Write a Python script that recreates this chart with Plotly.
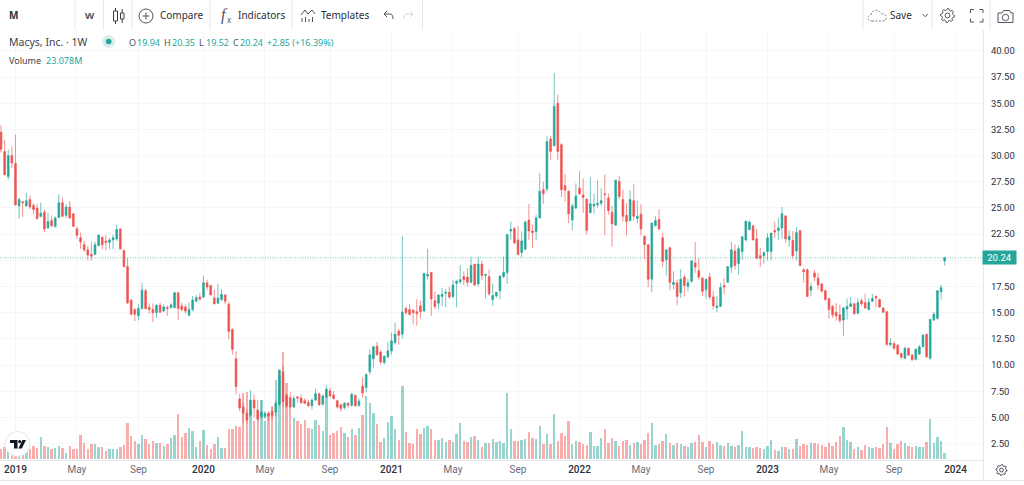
import math
import re
import pandas as pd
import plotly.graph_objects as go

TICK_DATES = ["2018-12-31", "2019-04-29", "2019-08-26", "2019-12-30", "2020-04-27", "2020-08-31",
              "2020-12-28", "2021-04-26", "2021-08-30", "2021-12-27", "2022-04-25", "2022-08-29",
              "2022-12-26", "2023-04-24", "2023-08-28", "2023-12-25"]
TICK_LABELS = ["2019", "May", "Sep", "2020", "May", "Sep", "2021", "May", "Sep", "2022", "May", "Sep",
               "2023", "May", "Sep", "2024"]
PRICE_TICKS = [2.5, 5, 7.5, 10, 12.5, 15, 17.5, 20, 22.5, 25, 27.5, 30, 32.5, 35, 37.5, 40]

OPEN = [32.25,30.4,28.0,30.0,29.25,25.2,25.6,25.2,25.8,25.25,
        25.0,24.2,24.6,23.1,23.8,23.2,24.1,25.5,24.3,25.1,
        24.45,23.0,22.15,21.5,21.0,20.55,20.55,21.4,22.2,21.85,
        21.7,21.95,22.05,23.0,20.95,19.4,16.2,15.3,14.7,15.4,
        17.1,15.5,15.3,15.0,15.7,15.15,15.5,15.5,15.5,16.9,
        15.65,15.55,14.75,15.3,16.1,16.5,16.5,17.85,17.6,16.4,
        15.9,16.25,16.7,15.8,13.4,10.6,6.75,6.0,5.4,5.2,
        6.65,5.7,5.05,5.05,5.4,5.6,5.5,6.25,9.36,7.1,
        6.9,6.0,6.95,6.85,6.6,6.45,6.1,6.65,7.25,6.25,
        6.9,7.55,7.15,6.6,6.2,5.95,6.35,6.15,7.1,6.15,
        8.0,7.85,9.35,10.6,11.8,11.25,10.25,10.8,11.35,12.15,
        13.25,12.95,15.4,15.3,15.25,15.1,15.65,15.15,18.5,18.85,
        16.15,15.9,16.55,16.85,16.95,16.55,17.8,17.95,18.45,18.4,
        17.9,19.65,17.75,19.65,18.55,18.45,16.25,16.6,17.1,18.45,
        18.85,22.8,23.05,21.95,20.75,21.05,23.85,22.8,22.75,24.05,
        26.75,26.8,31.6,30.95,35.0,31.05,27.15,26.6,23.85,25.0,
        26.9,26.25,25.85,24.55,25.2,25.3,25.45,26.35,25.95,24.6,
        23.35,27.55,25.8,24.3,23.8,25.7,24.0,24.4,22.3,21.5,
        18.2,23.3,23.9,22.15,20.05,21.2,17.7,17.85,16.9,18.4,
        17.5,18.0,19.75,19.0,18.3,17.2,18.4,16.5,15.5,15.6,
        17.6,17.9,19.35,20.9,19.7,20.85,21.95,22.95,23.3,22.05,
        20.45,20.45,20.85,20.85,22.85,22.85,23.1,24.25,21.95,21.9,
        20.9,22.85,19.1,19.1,17.15,18.8,18.3,17.75,17.1,16.35,
        15.6,15.05,14.8,14.3,15.35,15.6,15.85,14.95,16.15,15.95,
        15.3,16.1,16.55,16.25,15.45,15.1,11.95,12.05,11.9,11.1,
        10.65,11.6,10.95,10.55,11.05,11.75,12.95,10.65,14.3,14.45,17.0,19.94]
HIGH = [32.9,31.5,30.6,30.9,32.0,26.0,25.65,26.45,26.2,25.45,
        25.4,25.5,24.85,24.5,24.3,24.2,26.3,26.0,25.35,25.65,
        24.5,23.25,22.65,21.85,21.35,21.75,21.8,22.5,22.3,22.4,
        22.15,22.45,23.4,23.05,21.0,20.25,16.3,15.4,15.8,17.85,
        17.3,15.9,15.9,15.8,15.95,15.8,15.7,15.9,17.0,17.0,
        15.95,15.8,16.0,16.6,16.7,16.9,18.55,18.15,17.6,17.2,
        17.75,17.25,16.75,16.05,13.5,11.3,7.25,6.4,5.75,7.6,
        7.2,6.7,6.6,5.6,5.6,6.1,6.6,9.6,9.9,7.3,
        7.4,7.1,7.05,7.2,6.85,6.7,6.8,7.75,7.35,7.2,
        8.05,7.85,7.5,6.7,6.3,6.45,6.45,7.35,7.2,6.8,
        8.8,9.2,11.5,11.8,12.2,11.4,10.9,12.2,13.1,14.05,
        13.45,22.3,15.6,15.8,15.3,16.3,16.15,18.8,21.1,18.9,
        17.0,16.7,17.35,17.25,17.5,18.15,18.15,19.55,18.95,19.25,
        20.35,19.65,20.35,19.95,18.7,19.15,17.8,16.95,18.6,20.35,
        22.55,23.7,23.15,23.25,22.75,23.8,25.4,23.4,24.35,28.35,
        27.5,31.85,31.9,37.9,35.8,31.2,28.25,26.7,25.4,27.35,
        28.5,27.8,25.85,27.95,26.4,27.65,26.9,28.2,26.4,25.2,
        27.7,28.05,26.75,25.45,26.7,27.3,25.7,25.35,22.35,21.5,
        23.6,24.2,24.9,22.6,21.0,21.3,18.95,18.15,19.15,18.65,
        18.2,19.95,21.75,20.2,18.4,18.2,18.8,17.05,16.6,17.85,
        18.3,19.4,21.75,21.5,21.4,22.3,23.75,23.8,23.4,23.0,
        21.2,20.85,22.6,22.6,23.7,24.05,25.1,24.25,22.85,22.8,
        23.2,22.9,19.25,19.25,17.85,19.1,18.8,17.85,17.2,16.4,
        15.75,15.9,15.75,15.55,16.35,16.5,15.95,16.4,16.4,16.8,
        16.4,16.8,16.65,16.35,15.55,15.15,12.55,12.25,12.0,11.2,
        11.75,11.65,11.05,11.6,11.9,12.95,12.95,14.45,15.1,17.15,17.65,20.35]
LOW = [30.3,28.1,27.7,28.8,25.2,24.0,24.15,25.1,24.9,24.4,
       23.9,24.1,22.7,23.05,23.2,23.2,24.05,24.2,24.05,24.0,
       23.2,22.05,21.1,20.8,20.0,20.0,20.55,21.4,21.05,20.95,
       21.05,21.05,21.85,21.0,19.3,15.8,14.75,14.2,14.25,15.3,
       15.3,14.9,14.1,14.5,15.0,15.1,14.7,15.4,15.4,14.3,
       15.15,14.9,14.7,15.1,16.0,16.1,16.4,17.15,16.65,15.8,
       15.85,16.1,15.8,12.45,11.0,7.2,5.6,4.5,4.4,5.05,
       5.0,4.65,4.9,4.85,4.65,4.8,5.1,6.05,6.05,5.9,
       5.9,5.9,6.4,6.25,6.25,6.0,5.75,6.55,6.1,6.15,
       6.8,6.9,6.7,5.85,5.55,5.75,5.9,6.0,6.0,6.0,
       6.9,7.4,9.1,9.75,10.85,10.05,10.05,10.6,11.0,11.95,
       11.95,12.5,14.8,14.7,13.9,13.75,14.4,15.1,18.15,14.7,
       15.35,15.35,15.6,15.5,16.3,16.4,15.5,17.75,17.65,17.5,
       17.8,17.55,17.5,18.1,16.4,16.6,15.65,16.4,16.3,18.3,
       17.75,21.95,21.6,20.55,20.3,21.0,21.95,21.15,21.95,24.0,
       25.4,26.55,29.6,30.9,29.55,26.05,25.6,23.55,22.9,24.9,
       26.25,24.55,22.45,24.5,24.45,25.05,25.2,22.4,24.35,21.3,
       23.3,25.85,23.7,22.35,23.7,23.8,23.55,22.35,20.1,17.45,
       16.95,23.25,22.9,19.4,18.55,17.15,17.2,15.75,16.4,16.55,
       17.05,17.85,18.8,18.15,16.6,16.3,16.25,15.3,15.05,15.55,
       16.8,17.85,18.8,19.1,18.65,20.05,21.8,22.85,21.9,20.1,
       19.35,19.7,20.0,20.0,22.15,21.95,22.05,21.7,21.3,20.15,
       20.0,19.45,17.9,16.5,16.6,18.0,17.2,16.95,16.15,14.45,
       14.5,14.25,14.0,12.75,14.35,15.55,14.85,14.85,15.65,15.35,
       15.2,16.0,15.55,15.45,14.95,11.85,11.8,11.45,10.95,10.55,
       10.55,10.85,10.4,10.45,10.95,11.7,10.65,10.5,14.2,14.35,16.25,19.52]
CLOSE = [30.6,28.2,30.0,29.3,25.3,25.8,25.5,25.7,25.1,24.85,
         24.0,24.5,23.0,23.7,23.3,24.05,25.5,24.2,25.1,24.05,
         23.25,22.4,21.75,21.0,20.5,20.4,21.5,22.4,21.5,21.7,
         21.95,22.15,22.95,21.1,19.4,15.95,14.85,14.85,15.4,17.15,
         15.4,15.3,15.0,15.7,15.05,15.55,15.4,15.75,16.9,15.4,
         15.3,15.15,15.3,16.2,16.45,16.3,17.85,17.45,16.7,15.85,
         16.4,16.75,16.1,13.2,11.5,7.95,5.9,5.4,4.75,6.65,
         5.9,4.85,5.5,5.4,5.15,5.2,6.35,9.5,6.5,6.1,
         6.0,6.8,6.85,6.4,6.35,6.1,6.65,7.25,6.2,7.05,
         7.7,7.05,6.8,6.0,5.85,6.35,6.15,7.2,6.1,6.55,
         7.35,9.1,10.95,11.75,11.0,10.3,10.85,11.35,12.3,12.95,
         12.85,15.05,15.0,14.85,15.0,14.9,15.1,18.75,18.65,16.3,
         15.6,16.7,16.75,16.95,16.5,17.65,18.0,18.15,18.15,17.9,
         19.5,17.65,19.65,18.55,18.65,16.8,16.65,16.95,18.5,18.85,
         22.45,22.95,21.65,20.55,21.85,23.65,22.8,22.65,24.05,26.6,
         26.35,31.35,30.4,34.7,30.4,26.75,26.7,24.45,25.2,26.15,
         26.35,26.0,22.85,25.4,25.35,25.45,25.7,26.3,24.75,23.5,
         27.65,26.1,24.2,23.7,25.8,24.2,24.2,23.0,21.5,18.2,
         23.55,23.8,23.0,19.9,21.0,17.9,17.9,16.55,18.2,17.6,
         17.85,19.95,19.35,18.4,17.05,18.2,16.5,15.65,15.65,17.4,
         17.45,19.4,21.0,19.5,21.1,22.25,23.75,23.65,21.95,20.2,
         20.2,20.75,22.15,22.6,22.7,23.1,24.45,22.05,22.3,20.45,
         22.65,19.5,18.9,16.55,17.5,18.4,17.65,17.05,16.25,15.3,
         14.8,14.7,14.25,15.45,15.6,15.85,14.9,15.95,15.85,15.45,
         16.0,16.35,16.4,15.55,15.05,11.95,12.1,11.6,11.05,10.75,
         11.6,10.95,10.5,11.5,11.75,12.85,10.8,14.35,14.85,17.1,17.39,20.24]
VOLUME_M = [36,43,28,22,16,16,22,31,36,48,
            40,82,48,43,37,41,48,41,24,48,
            37,38,86,58,38,56,54,44,43,30,
            38,38,36,44,52,130,84,66,55,89,
            72,56,65,60,60,48,55,78,89,162,
            80,96,112,102,44,66,106,53,37,54,
            79,42,40,108,108,121,115,238,244,180,
            138,178,214,138,166,190,286,300,388,274,
            190,148,138,126,142,112,110,142,122,102,
            220,89,94,102,116,96,80,110,88,113,
            160,228,204,166,126,64,78,134,155,108,
            68,265,100,58,54,110,91,112,119,110,
            68,68,77,62,68,62,91,132,65,62,
            82,84,70,43,60,60,72,62,67,58,
            238,108,67,67,70,72,97,76,72,121,
            55,91,55,163,67,94,84,138,55,67,
            62,55,52,100,48,48,76,110,59,76,
            67,48,67,70,52,60,62,55,70,94,
            132,52,55,66,91,58,52,58,54,48,
            46,60,62,86,62,43,65,55,62,52,
            48,60,48,43,52,102,43,43,40,46,
            42,36,48,70,34,31,43,43,36,38,
            72,48,55,53,58,60,55,53,46,58,
            49,61,84,118,70,64,36,46,34,50,
            46,42,43,41,55,118,58,36,55,67,
            58,48,46,48,46,46,62,144,60,82,65,23.078]

n = len(CLOSE)
assert (len(OPEN), len(HIGH), len(LOW), len(VOLUME_M)) == (n, n, n, n), (len(OPEN), len(HIGH), len(LOW), len(VOLUME_M), n)
DATES = pd.date_range("2018-12-03", periods=n, freq="7D")

W, H = 1024, 485
UP, DOWN = "#26a69a", "#ef5350"
UP_VOL, DOWN_VOL = "rgba(38,166,154,0.47)", "rgba(239,83,80,0.47)"
GRID = "#f6f6f8"
LINE = "#e6e8ef"
INK = "#2a2e39"
FONT = "Noto Sans"
AXIS_FONT = "Roboto"


def px(x):
    return x / W


def py(y):
    return 1 - y / H


def pth(d):
    out, is_x = [], True
    for tok in re.findall(r"[A-Za-z]|-?\d+\.?\d*", d):
        if tok.isalpha():
            out.append(tok)
            is_x = True
        else:
            v = float(tok)
            out.append(f"{px(v):.5f}" if is_x else f"{py(v):.5f}")
            is_x = not is_x
    return " ".join(out)


shapes, notes = [], []


def path(d, color=INK, width=1, fill=None, dash=None, layer="above"):
    shapes.append(dict(type="path", xref="paper", yref="paper", path=pth(d), layer=layer,
                       line=dict(color=color, width=width, dash=dash or "solid"),
                       fillcolor=fill or "rgba(0,0,0,0)"))


def circle(cx, cy, r, color=INK, width=1, fill=None):
    shapes.append(dict(type="circle", xref="paper", yref="paper", x0=px(cx - r), x1=px(cx + r),
                       y0=py(cy + r), y1=py(cy - r), layer="above",
                       line=dict(color=color, width=width), fillcolor=fill or "rgba(0,0,0,0)"))


def txt(x, y, s, color=INK, size=11, family=FONT, anchor="left"):
    notes.append(dict(x=px(x), y=py(y), xref="paper", yref="paper", text=s, showarrow=False,
                      xanchor=anchor, yanchor="middle", borderpad=0, align="left",
                      font=dict(family=family, size=size, color=color)))


def gear(cx, cy, r, color="#50535e", width=1, teeth=8):
    pts = []
    for k in range(teeth * 4):
        a = 2 * math.pi * k / (teeth * 4)
        rr = r if k % 4 in (0, 1) else r * 0.78
        pts.append((cx + rr * math.cos(a), cy + rr * math.sin(a)))
    d = "M " + " L ".join(f"{a:.2f} {b:.2f}" for a, b in pts) + " Z"
    path(d, color=color, width=width)
    circle(cx, cy, r * 0.35, color=color, width=width)


# toolbar separators and frame
for sx in [75, 103.5, 132, 210, 292, 422.5, 863, 932, 990]:
    path(f"M {sx} 0 L {sx} 30", color=LINE)
path("M 0 480.5 L 1024 480.5", color=LINE)
path("M 983.5 459 L 983.5 480.5", color=LINE)

# toolbar text
txt(8, 15.5, "<b>M</b>", size=10)
txt(84, 15.5, "<b>W</b>", color="#50535e", size=9.5)
txt(159, 15.5, "Compare", size=10)
txt(237, 15.5, "Indicators", size=10)
txt(320, 15.5, "Templates", size=10)
txt(889, 15.5, "Save", size=10)

# candle icon
path("M 113.5 11 L 117.5 11 L 117.5 21 L 113.5 21 Z", color="#3c3f4a")
path("M 115.5 8 L 115.5 11 M 115.5 21 L 115.5 24", color="#3c3f4a")
path("M 120.5 13 L 124 13 L 124 19 L 120.5 19 Z", color="#3c3f4a")
path("M 122.2 9 L 122.2 13 M 122.2 19 L 122.2 23", color="#3c3f4a")
# compare icon
circle(146, 16, 7, color="#50535e")
path("M 142.5 16 L 149.5 16 M 146 12.5 L 146 19.5", color="#50535e")
# indicators icon
txt(219.5, 15, "<i>f</i>", size=16, family="Liberation Serif", color="#50535e")
txt(225.5, 20, "x", size=8, color="#50535e")
# templates icon
path("M 301 15 L 305 10 L 308 14 L 312 10 L 315 14", color="#50535e")
path("M 302 18 L 302 22 M 305.5 17 L 305.5 22 M 309 19 L 309 22 M 312.5 17 L 312.5 22", color="#50535e")
# undo and redo
path("M 387 11 L 384 14 L 387 17 M 384 14 L 390 14 Q 393 14 393 19", color="#50535e")
path("M 410 11 L 413 14 L 410 17 M 413 14 L 407 14 Q 404 14 404 19", color="#d1d4dc")
# save cloud and chevron
path("M 872 21 L 882 21 Q 887 21 886 16.5 Q 885 13.5 881.5 14 Q 879 9.5 874.5 10.5 Q 871.5 11.5 871 15 "
     "Q 867.5 16 868 18.5 Q 869 21 872 21 Z", color="#7d808a", dash="2px,1.5px")
path("M 922.8 14.2 L 925.3 16.7 L 927.8 14.2", color="#50535e")
# settings
gear(947.5, 15.5, 7)
# fullscreen
path("M 970.5 13 L 970.5 9.5 L 974 9.5 M 983 13 L 983 9.5 L 979.5 9.5 M 970.5 18.5 L 970.5 22 L 974 22 "
     "M 983 18.5 L 983 22 L 979.5 22", color="#50535e")
# camera
path("M 998 13 L 1002 13 L 1003.5 10.5 L 1009.5 10.5 L 1011 13 L 1013 13 L 1013 22.5 L 998 22.5 Z", color="#50535e")
circle(1005.5, 17.5, 3.2, color="#50535e")
# bottom settings
gear(1001.5, 470, 5.5)

# legend
txt(7.5, 42, "Macys, Inc. · 1W", size=10.5, color="#3c3f4a")
circle(108.7, 41.5, 6.5, color="#d7eeeb", fill="#d7eeeb", width=0)
circle(108.7, 41.5, 2.8, color=UP, fill=UP, width=0)
for lx, lab, vx, val in [(128, "O", 136, f"{OPEN[-1]:.2f}"), (163, "H", 170.5, f"{HIGH[-1]:.2f}"),
                         (198, "L", 204.5, f"{LOW[-1]:.2f}"), (232, "C", 239, f"{CLOSE[-1]:.2f}")]:
    txt(lx, 42.5, lab, color="#50535e", size=9)
    txt(vx, 42.5, val, color=UP, size=9)
txt(266, 42.5, "+2.85 (+16.39%)", color=UP, size=9)
txt(7.5, 60, "Volume", size=9, color="#3c3f4a")
txt(45, 60, "23.078M", color=UP, size=9)

# TradingView badge
circle(17.5, 444, 12.5, color="#e3e5ea", fill="#ffffff", width=1)
path("M 10 440 L 17.5 440 L 17.5 448.5 L 14 448.5 L 14 443 L 10 443 Z", color="#131722", fill="#131722", width=0)
circle(19.7, 441.6, 1.6, color="#131722", fill="#131722", width=0)
path("M 22.5 440 L 26 440 L 21.8 448.5 L 18.4 448.5 Z", color="#131722", fill="#131722", width=0)

# last price
shapes.append(dict(type="line", xref="paper", yref="y2", x0=0, x1=983 / W, y0=CLOSE[-1], y1=CLOSE[-1],
                   layer="above", line=dict(color="rgba(38,166,154,0.65)", width=1, dash="1px,1.5px")))
notes.append(dict(x=999.5 / W, y=CLOSE[-1], xref="paper", yref="y2", text=f"{CLOSE[-1]:.2f}", showarrow=False,
                  xanchor="center", yanchor="middle", bgcolor=UP, width=33, height=12.5, borderpad=0,
                  font=dict(family=AXIS_FONT, size=9.5, color="#ffffff")))

tick_text = [f'<span style="color:#2a2e39;font-weight:500">{t}</span>' if t[0].isdigit() else t for t in TICK_LABELS]
# the 20.00 label sits behind the last-price tag in the reference
price_text = ["" if v == 20 else f"{v:.2f}" for v in PRICE_TICKS]

fig = go.Figure()
fig.add_trace(go.Bar(x=DATES, y=VOLUME_M, yaxis="y", width=4.0e8,
                     marker=dict(color=[UP_VOL if c >= o else DOWN_VOL for o, c in zip(OPEN, CLOSE)], line_width=0),
                     showlegend=False, hoverinfo="skip"))
fig.add_trace(go.Candlestick(x=DATES, open=OPEN, high=HIGH, low=LOW, close=CLOSE, yaxis="y2", whiskerwidth=0,
                             increasing=dict(line=dict(color=UP, width=0.65), fillcolor=UP),
                             decreasing=dict(line=dict(color=DOWN, width=0.65), fillcolor=DOWN),
                             showlegend=False))
fig.update_layout(
    width=W, height=H, margin=dict(l=0, r=0, t=0, b=0), paper_bgcolor="#ffffff", plot_bgcolor="#ffffff",
    bargap=0, showlegend=False, shapes=shapes, annotations=notes,
    font=dict(family=AXIS_FONT, size=9.5, color="#50535e"),
    xaxis=dict(domain=[0, 983 / W], type="date", range=["2018-12-01 01:30", "2024-02-16 05:00"],
               rangeslider=dict(visible=False), tickmode="array", tickvals=TICK_DATES, ticktext=tick_text,
               tickangle=0, showgrid=True, gridcolor=GRID, gridwidth=1, ticks="", showline=True, linecolor=LINE,
               zeroline=False, anchor="y", tickfont=dict(family=AXIS_FONT, size=10, color="#6a6d78")),
    yaxis=dict(domain=[(H - 460) / H, (H - 30) / H], range=[-2.5, 1545.5], visible=False, fixedrange=True),
    yaxis2=dict(domain=[(H - 460) / H, (H - 30) / H], overlaying="y", side="right", anchor="x",
                range=[0.93, 42.0], tickmode="array", tickvals=PRICE_TICKS, ticktext=price_text,
                showgrid=True, gridcolor=GRID, gridwidth=1,
                zeroline=False, ticks="", showline=True, linecolor=LINE, ticklabelstandoff=5,
                tickfont=dict(family=AXIS_FONT, size=9.5, color="#2a2e39")),
)
fig.write_html("out.html", config=dict(displayModeBar=False),
               post_script="document.body.style.margin='0';document.body.style.overflow='hidden';")
